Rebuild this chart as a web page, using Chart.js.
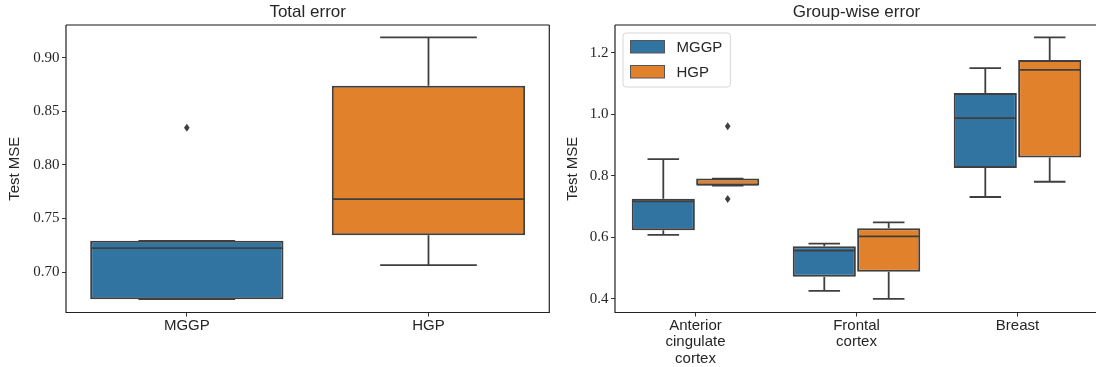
<!DOCTYPE html>
<html>
<head>
<meta charset="utf-8">
<script src="https://cdn.jsdelivr.net/npm/chart.js@4.4.1/dist/chart.umd.min.js"></script>
<style>
  html, body { margin: 0; padding: 0; background: #fff; overflow: hidden; }
  body { width: 1096px; height: 367px; position: relative; }
  .panel { position: absolute; top: 0; height: 367px; }
  #left { left: 0; width: 560px; }
  #right { left: 560px; width: 540px; }
</style>
</head>
<body>
<div class="panel" id="left"><canvas id="totalChart"></canvas></div>
<div class="panel" id="right"><canvas id="groupChart"></canvas></div>
<script>
// --- Total error (one box per model) ---
const models = ["MGGP", "HGP"];
const totalLo = [0.6748, 0.7065];
const totalQ1 = [0.6748, 0.7345];
const totalMed = [0.7224, 0.7681];
const totalQ3 = [0.7292, 0.8739];
const totalHi = [0.7292, 0.919];
const totalOut = [[0.8347], []];
const totalTicks = [0.7, 0.75, 0.8, 0.85, 0.9];

// --- Group-wise error ---
const groups = [["Anterior", "cingulate", "cortex"], ["Frontal", "cortex"], "Breast"];
const mggpLo = [0.6077, 0.426, 0.731];
const mggpQ1 = [0.6226, 0.4715, 0.825];
const mggpMed = [0.7167, 0.5568, 0.9872];
const mggpQ3 = [0.7255, 0.5708, 1.0693];
const mggpHi = [0.854, 0.5795, 1.15];
const mggpOut = [[], [], []];
const hgpLo = [0.768, 0.4, 0.7806];
const hgpQ1 = [0.768, 0.4877, 0.8595];
const hgpMed = [0.771, 0.6032, 1.1439];
const hgpQ3 = [0.791, 0.6291, 1.1763];
const hgpHi = [0.791, 0.6486, 1.25];
const hgpOut = [[0.961, 0.7245], [], []];
const groupTicks = [0.4, 0.6, 0.8, 1.0, 1.2];

const BLUE = "#3274a1";
const ORANGE = "#e1812c";
const LINE = "#3f3f3f";
const TEXT = "#262626";
const SANS = '"Liberation Sans", sans-serif';
const SERIF = '"Liberation Serif", serif';

// whiskers go behind the boxes, medians + fliers on top
const boxPlot = {
  id: "boxPlot",
  beforeDatasetsDraw(chart) {
    const ctx = chart.ctx;
    const y = chart.scales.y;
    chart.data.datasets.forEach((ds, di) => {
      chart.getDatasetMeta(di).data.forEach((bar, i) => {
        const cap = bar.width / 4;
        const lo = y.getPixelForValue(ds.stats.lo[i]);
        const hi = y.getPixelForValue(ds.stats.hi[i]);
        ctx.save();
        ctx.strokeStyle = LINE;
        ctx.lineWidth = 1.8;
        ctx.beginPath();
        ctx.moveTo(bar.x, y.getPixelForValue(ds.stats.q3[i]));
        ctx.lineTo(bar.x, hi);
        ctx.moveTo(bar.x - cap, hi);
        ctx.lineTo(bar.x + cap, hi);
        ctx.moveTo(bar.x, y.getPixelForValue(ds.stats.q1[i]));
        ctx.lineTo(bar.x, lo);
        ctx.moveTo(bar.x - cap, lo);
        ctx.lineTo(bar.x + cap, lo);
        ctx.stroke();
        ctx.restore();
      });
    });
  },
  afterDatasetsDraw(chart) {
    const ctx = chart.ctx;
    const y = chart.scales.y;
    chart.data.datasets.forEach((ds, di) => {
      chart.getDatasetMeta(di).data.forEach((bar, i) => {
        const m = y.getPixelForValue(ds.stats.med[i]);
        ctx.save();
        ctx.strokeStyle = LINE;
        ctx.lineWidth = 1.8;
        ctx.beginPath();
        ctx.moveTo(bar.x - bar.width / 2 + 1, m);
        ctx.lineTo(bar.x + bar.width / 2 - 1, m);
        ctx.stroke();
        ctx.fillStyle = LINE;
        ds.stats.out[i].forEach((v) => {
          const py = y.getPixelForValue(v);
          ctx.beginPath();
          ctx.moveTo(bar.x, py - 4);
          ctx.lineTo(bar.x + 2.8, py);
          ctx.lineTo(bar.x, py + 4);
          ctx.lineTo(bar.x - 2.8, py);
          ctx.closePath();
          ctx.fill();
        });
        ctx.restore();
      });
    });
    // spines
    const a = chart.chartArea;
    ctx.save();
    ctx.strokeStyle = "#8a8a8a";
    ctx.lineWidth = 2;
    ctx.beginPath();
    ctx.moveTo(a.left, a.top);
    ctx.lineTo(a.right, a.top);
    ctx.stroke();
    ctx.strokeStyle = "#222";
    ctx.lineWidth = 1.2;
    ctx.beginPath();
    ctx.moveTo(a.left, a.top);
    ctx.lineTo(a.left, a.bottom);
    ctx.lineTo(a.right, a.bottom);
    ctx.lineTo(a.right, a.top);
    ctx.stroke();
    ctx.restore();
  },
};

// legend box in the upper left of the axes
const boxLegend = {
  id: "boxLegend",
  afterDraw(chart) {
    const ctx = chart.ctx;
    const a = chart.chartArea;
    const dss = chart.data.datasets;
    ctx.save();
    ctx.font = "15px " + SANS;
    const tw = Math.max(...dss.map((d) => ctx.measureText(d.label).width));
    const left = a.left + 8;
    const top = a.top + 8;
    const w = 53.5 + tw + 8;
    const h = 54;
    ctx.beginPath();
    ctx.roundRect(left, top, w, h, 3);
    ctx.fillStyle = "rgba(255,255,255,0.8)";
    ctx.fill();
    ctx.strokeStyle = "#d6d6d6";
    ctx.lineWidth = 1;
    ctx.stroke();
    dss.forEach((d, i) => {
      const py = top + 7.5 + i * 25;
      ctx.fillStyle = d.backgroundColor;
      ctx.fillRect(left + 7.5, py, 34, 12.5);
      ctx.strokeStyle = "#555";
      ctx.strokeRect(left + 7.5, py, 34, 12.5);
      ctx.fillStyle = TEXT;
      ctx.textBaseline = "middle";
      ctx.fillText(d.label, left + 53.5, py + 7);
    });
    ctx.restore();
  },
};

function makeScales(yMin, yMax, yTicks, digits, axisWidth, titlePad) {
  return {
    x: {
      afterFit: (s) => { s.height = 54.5; },
      grid: { drawOnChartArea: false, offset: false, tickLength: 4, tickColor: "#333" },
      border: { display: false },
      ticks: {
        color: TEXT,
        font: { family: SANS, size: 15, lineHeight: 1.1 },
        padding: 1,
        maxRotation: 0,
        autoSkip: false,
      },
    },
    y: {
      min: yMin,
      max: yMax,
      afterBuildTicks: (s) => { s.ticks = yTicks.map((v) => ({ value: v })); },
      afterFit: (s) => { s.width = axisWidth; },
      grid: { drawOnChartArea: false, tickLength: 4, tickColor: "#333" },
      border: { display: false },
      ticks: {
        color: TEXT,
        font: { family: SERIF, size: 15 },
        padding: 2.5,
        callback: (v) => Number(v).toFixed(digits),
      },
      title: {
        display: true,
        text: "Test MSE",
        color: TEXT,
        font: { family: SANS, size: 15 },
        padding: { top: titlePad, bottom: 0 },
      },
    },
  };
}

function titleOpts(text) {
  return {
    display: true,
    text,
    fullSize: false,
    color: TEXT,
    font: { family: SANS, size: 17, weight: "normal", lineHeight: 1.2 },
    padding: { top: 2, bottom: 2.6 },
  };
}

new Chart(document.getElementById("totalChart"), {
  type: "bar",
  data: {
    labels: models,
    datasets: [
      {
        label: "Total",
        data: totalQ1.map((v, i) => [v, totalQ3[i]]),
        backgroundColor: [BLUE, ORANGE],
        borderColor: LINE,
        borderWidth: 2,
        borderSkipped: false,
        categoryPercentage: 0.8,
        barPercentage: 1,
        stats: { lo: totalLo, q1: totalQ1, med: totalMed, q3: totalQ3, hi: totalHi, out: totalOut },
      },
    ],
  },
  options: {
    responsive: true,
    maintainAspectRatio: false,
    animation: false,
    events: [],
    layout: { padding: { left: 0, right: 10.7, top: 0, bottom: 0 } },
    plugins: {
      legend: { display: false },
      tooltip: { enabled: false },
      title: titleOpts("Total error"),
    },
    scales: makeScales(0.6624, 0.9305, totalTicks, 2, 66, 5.4),
  },
  plugins: [boxPlot],
});

new Chart(document.getElementById("groupChart"), {
  type: "bar",
  data: {
    labels: groups,
    datasets: [
      {
        label: "MGGP",
        data: mggpQ1.map((v, i) => [v, mggpQ3[i]]),
        backgroundColor: BLUE,
        borderColor: LINE,
        borderWidth: 2,
        borderSkipped: false,
        categoryPercentage: 0.8,
        barPercentage: 0.98,
        stats: { lo: mggpLo, q1: mggpQ1, med: mggpMed, q3: mggpQ3, hi: mggpHi, out: mggpOut },
      },
      {
        label: "HGP",
        data: hgpQ1.map((v, i) => [v, hgpQ3[i]]),
        backgroundColor: ORANGE,
        borderColor: LINE,
        borderWidth: 2,
        borderSkipped: false,
        categoryPercentage: 0.8,
        barPercentage: 0.98,
        stats: { lo: hgpLo, q1: hgpQ1, med: hgpMed, q3: hgpQ3, hi: hgpHi, out: hgpOut },
      },
    ],
  },
  options: {
    responsive: true,
    maintainAspectRatio: false,
    animation: false,
    events: [],
    layout: { padding: { left: 0, right: 2, top: 0, bottom: 0 } },
    plugins: {
      legend: { display: false },
      tooltip: { enabled: false },
      title: titleOpts("Group-wise error"),
    },
    scales: makeScales(0.3556, 1.29, groupTicks, 1, 55, 3.4),
  },
  plugins: [boxPlot, boxLegend],
});
</script>
</body>
</html>
